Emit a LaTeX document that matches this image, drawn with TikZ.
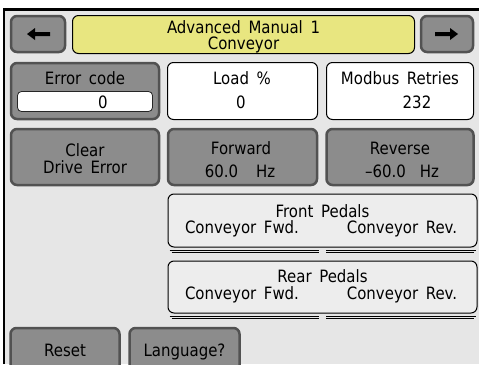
\documentclass[tikz,border=0pt]{standalone}
\usepackage{fontspec}
\setmainfont{DejaVu Sans}[FakeStretch=0.88,WordSpace=1.6]
\definecolor{scrn}{HTML}{E6E6E6}
\definecolor{keyfill}{HTML}{8C8C8C}
\definecolor{keyedge}{HTML}{525252}
\definecolor{bannerfill}{HTML}{E8E680}
\definecolor{pedalfill}{HTML}{EDEDED}

\begin{document}
\begin{tikzpicture}[x=1pt, y=-1pt, inner sep=0pt,
		txt/.style = {font=\fontsize{17}{16}\selectfont, anchor=base},
		keybtn/.style = {draw=keyedge, fill=keyfill, line width=2.5pt, rounded corners=6pt},
		readout/.style = {draw=black, fill=white, line width=1pt, rounded corners=6pt},
		pedalbox/.style = {draw=black, fill=pedalfill, line width=1pt, rounded corners=6pt},
		shadowln/.style = {draw=black, line width=0.9pt}]

		\clip (0,0) rectangle (479,364);
		\fill[white] (0,0) rectangle (479,364);
		\fill[scrn] (4,9) rectangle (479,364);
		\draw[line width=2.5pt] (4,364) -- (4,9.5) -- (479,9.5);

		% header
		\node[keybtn, minimum width=54, minimum height=36] (back) at (38,34) {};
		\node[draw=black, fill=bannerfill, line width=1pt, rounded corners=6pt,
			minimum width=342, minimum height=38] (banner) at (243.5,34.5) {};
		\node[align=center, font=\fontsize{17}{16}\selectfont] (bannerlbl) at (243.5,37) {Advanced Manual 1\\Conveyor};
		\node[keybtn, minimum width=52, minimum height=36] (next) at (447,34) {};
		\fill[shift={(back.center)}] (-11,0) -- (-3,-6) -- (-3,-2) -- (12,-2) -- (12,2) -- (-3,2) -- (-3,6) -- cycle;
		\fill[shift={(next.center)}] (11,0) -- (3,-6) -- (3,-2) -- (-12,-2) -- (-12,2) -- (3,2) -- (3,6) -- cycle;

		% first row
		\node[keybtn, minimum width=148, minimum height=56] (errbox) at (85,91) {};
		\node[txt] (errlbl) at (85,84) {Error code};
		\node[draw=black!85, fill=white, line width=0.8pt, rounded corners=4pt,
			minimum width=135, minimum height=20] (errfield) at (85,101.5) {};
		\node[txt] (errval) at (103,108) {0};

		\node[readout, minimum width=150, minimum height=57] (loadbox) at (242.5,91) {};
		\node[txt] (loadlbl) at (242,84) {Load \%};
		\node[txt] (loadval) at (241,108) {0};

		\node[readout, minimum width=147, minimum height=57] (modbox) at (400,91) {};
		\node[txt] (modlbl) at (400,84) {Modbus Retries};
		\node[txt] (modval) at (417,108) {232};

		% second row
		\node[keybtn, minimum width=148, minimum height=56] (clrbox) at (85,157) {};
		\node[txt] (clrlbl) at (85,156) {Clear};
		\node[txt] (clrlbl2) at (85,173) {Drive Error};

		\node[keybtn, minimum width=149, minimum height=56] (fwdbox) at (242.5,157) {};
		\node[txt] (fwdlbl) at (241,154) {Forward};
		\node[txt] (fwdval) at (240,177) {60.0\hspace{18pt}Hz};

		\node[keybtn, minimum width=147, minimum height=56] (revbox) at (400,157) {};
		\node[txt] (revlbl) at (400,154) {Reverse};
		\node[txt] (revval) at (402,177) {--60.0\hspace{14pt}Hz};

		% pedal panels
		\node[pedalbox, minimum width=309, minimum height=53] (frontbox) at (322.5,220.5) {};
		\node[txt] (frontlbl) at (322.5,217) {Front Pedals};
		\node[txt] (frontfwd) at (242,233.5) {Conveyor Fwd.};
		\node[txt] (frontrev) at (402,233.5) {Conveyor Rev.};

		\node[pedalbox, minimum width=309, minimum height=52] (rearbox) at (322.5,287) {};
		\node[txt] (rearlbl) at (322.5,282.5) {Rear Pedals};
		\node[txt] (rearfwd) at (242,299.5) {Conveyor Fwd.};
		\node[txt] (rearrev) at (402,299.5) {Conveyor Rev.};

		\foreach \pnl in {frontbox, rearbox} {
			\draw[shadowln] ([xshift=2pt, yshift=-2.5pt]\pnl.south west) -- ([xshift=-3.5pt, yshift=-2.5pt]\pnl.south);
			\draw[shadowln] ([xshift=4pt, yshift=-5pt]\pnl.south west) -- ([xshift=-3.5pt, yshift=-5pt]\pnl.south);
			\draw[shadowln] ([xshift=3.5pt, yshift=-2.5pt]\pnl.south) -- ([xshift=-2pt, yshift=-2.5pt]\pnl.south east);
			\draw[shadowln] ([xshift=3.5pt, yshift=-5pt]\pnl.south) -- ([xshift=-4pt, yshift=-5pt]\pnl.south east);
		}

		% bottom keys
		\node[keybtn, minimum width=109, minimum height=44] (resetbtn) at (65,350) {};
		\node[txt] (resetlbl) at (65,356) {Reset};
		\node[keybtn, minimum width=110, minimum height=44] (langbtn) at (184.5,350) {};
		\node[txt] (langlbl) at (184.5,356) {Language?};
	\end{tikzpicture}
\end{document}
